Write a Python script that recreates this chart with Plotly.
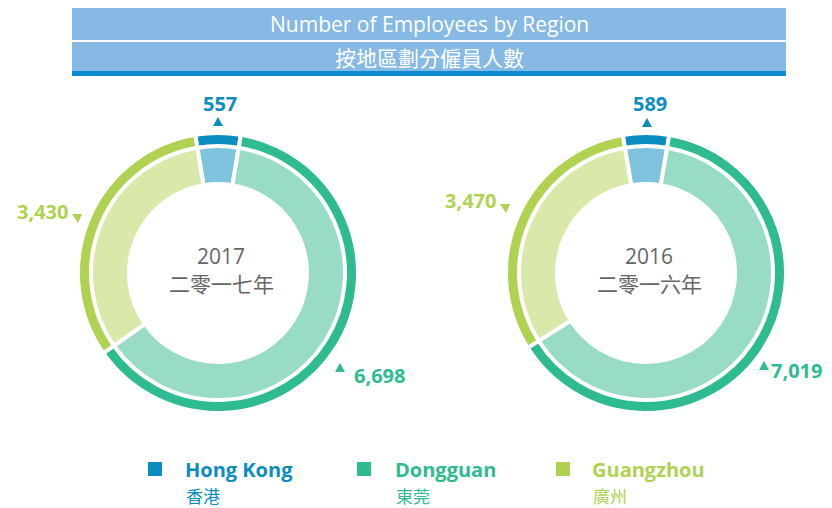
import plotly.graph_objects as go

regions_en = ["Hong Kong", "Dongguan", "Guangzhou"]
regions_zh = ["香港", "東莞", "廣州"]
years = ["2017", "2016"]
years_zh = ["二零一七年", "二零一六年"]
values_2017 = [557, 6698, 3430]
values_2016 = [589, 7019, 3470]
value_labels_2017 = ["557", "6,698", "3,430"]
value_labels_2016 = ["589", "7,019", "3,470"]

dark_colors = ["#0b8dc0", "#2fbb91", "#afd251"]
light_colors = ["#80c3df", "#98dcc6", "#d8e9a9"]

# the page body has an 8px margin; lay out in window pixels and offset
OFF = 8
W, H = 832 - OFF, 508 - OFF
FONT = "Open Sans, Noto Sans CJK TC, sans-serif"
FONT_ZH = "Noto Sans CJK TC, sans-serif"


def px_x(x):
    return (x - OFF) / W


def px_y(y):
    return 1 - (y - OFF) / H


def dom(cx, cy, r):
    return dict(x=[px_x(cx - r), px_x(cx + r)], y=[px_y(cy + r), px_y(cy - r)])


fig = go.Figure()
GAP = 4
centers = [(218, 273), (646, 273)]
R_OUT, T_OUT = 138, 10
R_IN_OUT, R_IN_IN = 125, 91

for (cx, cy), vals in zip(centers, [values_2017, values_2016]):
    rot = -360 * vals[0] / sum(vals) / 2
    rg = R_OUT + GAP / 2
    hole_r = R_OUT - T_OUT - GAP / 2
    fig.add_trace(go.Pie(values=vals, labels=regions_en, sort=False, direction="clockwise",
                         rotation=rot, hole=hole_r / rg, domain=dom(cx, cy, rg),
                         marker=dict(colors=dark_colors, line=dict(color="white", width=GAP)),
                         textinfo="none", hoverinfo="label+value", showlegend=False))
    rg2 = R_IN_OUT + GAP / 2
    hole2 = R_IN_IN - GAP / 2
    fig.add_trace(go.Pie(values=vals, labels=regions_en, sort=False, direction="clockwise",
                         rotation=rot, hole=hole2 / rg2, domain=dom(cx, cy, rg2),
                         marker=dict(colors=light_colors, line=dict(color="white", width=GAP)),
                         textinfo="none", hoverinfo="label+value", showlegend=False))

shapes = []
annotations = []

# Title banner
shapes.append(dict(type="rect", xref="paper", yref="paper", x0=px_x(72), x1=px_x(786),
                   y0=px_y(40), y1=px_y(6), fillcolor="#86bae4", line=dict(width=0), layer="below"))
shapes.append(dict(type="rect", xref="paper", yref="paper", x0=px_x(72), x1=px_x(786),
                   y0=px_y(71), y1=px_y(42), fillcolor="#86bae4", line=dict(width=0), layer="below"))
shapes.append(dict(type="rect", xref="paper", yref="paper", x0=px_x(72), x1=px_x(786),
                   y0=px_y(76), y1=px_y(71), fillcolor="#0a8bcf", line=dict(width=0), layer="below"))
annotations.append(dict(text="Number of Employees by Region", x=px_x(429), y=px_y(24), xref="paper", yref="paper",
                        showarrow=False, font=dict(family=FONT, size=21, color="white"),
                        xanchor="center", yanchor="middle"))
annotations.append(dict(text="按地區劃分僱員人數", x=px_x(429), y=px_y(57), xref="paper", yref="paper",
                        showarrow=False, font=dict(family=FONT_ZH, size=21, color="white"),
                        xanchor="center", yanchor="middle"))

# Center texts
for (cx, cy), yr, yz in zip(centers, years, years_zh):
    annotations.append(dict(text=yr, x=px_x(cx + 3), y=px_y(256), xref="paper", yref="paper", showarrow=False,
                            font=dict(family=FONT, size=21, color="#666666"), xanchor="center", yanchor="middle"))
    annotations.append(dict(text=yz, x=px_x(cx + 3), y=px_y(283), xref="paper", yref="paper", showarrow=False,
                            font=dict(family=FONT_ZH, size=21, color="#666666"), xanchor="center", yanchor="middle"))

# Value labels and pointer triangles (triangles as small paths)
label_pos = [
    [((220, 104), (218, 122), "up"), ((379, 375), (340, 368), "up"), ((42, 212), (77, 218), "down")],
    [((650, 104), (647, 123), "up"), ((796, 370), (764, 366), "up"), ((470, 200), (505, 208), "down")],
]


def tri(ax, ay, d):
    if d == "up":
        pts = [(ax - 5, ay + 4), (ax + 5, ay + 4), (ax, ay - 5)]
    else:
        pts = [(ax - 5, ay - 4), (ax + 5, ay - 4), (ax + 1, ay + 5)]
    return "M %f %f L %f %f L %f %f Z" % tuple(v for p in pts for v in (px_x(p[0]), px_y(p[1])))


for labs, pos in zip([value_labels_2017, value_labels_2016], label_pos):
    for i, (lab, ((tx, ty), (ax, ay), d)) in enumerate(zip(labs, pos)):
        annotations.append(dict(text="<b>%s</b>" % lab, x=px_x(tx), y=px_y(ty), xref="paper", yref="paper",
                                showarrow=False, font=dict(family=FONT, size=20, color=dark_colors[i]),
                                xanchor="center", yanchor="middle"))
        shapes.append(dict(type="path", xref="paper", yref="paper", path=tri(ax, ay, d),
                           fillcolor=dark_colors[i], line=dict(width=0)))

# Legend
leg_sq_x = [148, 357, 556]
leg_tx_x = [185, 395, 592]
for i in range(3):
    shapes.append(dict(type="rect", xref="paper", yref="paper", x0=px_x(leg_sq_x[i]), x1=px_x(leg_sq_x[i] + 14),
                       y0=px_y(476), y1=px_y(462), fillcolor=dark_colors[i], line=dict(width=0)))
    annotations.append(dict(text="<b>%s</b>" % regions_en[i], x=px_x(leg_tx_x[i] - 2), y=px_y(469),
                            xref="paper", yref="paper", showarrow=False,
                            font=dict(family=FONT, size=20, color=dark_colors[i]),
                            xanchor="left", yanchor="middle"))
    annotations.append(dict(text=regions_zh[i], x=px_x(leg_tx_x[i] - 1), y=px_y(495), xref="paper", yref="paper",
                            showarrow=False, font=dict(family=FONT_ZH, size=17, color=dark_colors[i]),
                            xanchor="left", yanchor="middle"))

fig.update_layout(width=W, height=H, margin=dict(l=0, r=0, t=0, b=0), paper_bgcolor="white",
                  plot_bgcolor="white", shapes=shapes, annotations=annotations, showlegend=False)
fig.write_html("out.html")
